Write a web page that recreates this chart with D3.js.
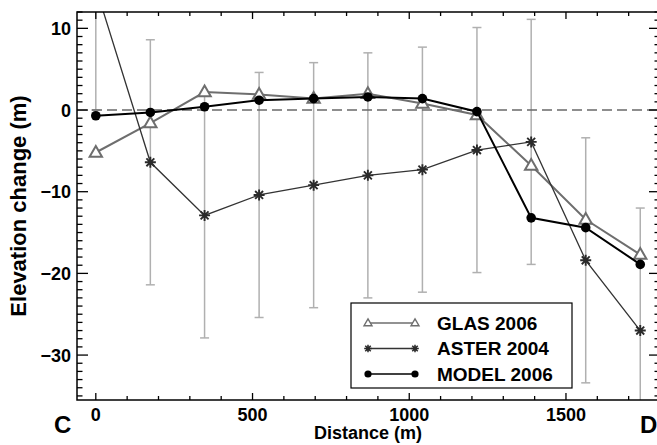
<!DOCTYPE html>
<html>
<head>
<meta charset="utf-8">
<script src="https://cdn.jsdelivr.net/npm/d3@7"></script>
<style>
  body { margin: 0; background: #fff; }
  svg { display: block; font-family: "Liberation Sans", Arial, Helvetica, sans-serif; font-weight: bold; }
</style>
</head>
<body>
<svg width="657" height="445"></svg>
<script>
// distance along profile C-D (m)
const distance = [0, 174, 347, 521, 695, 868, 1042, 1216, 1389, 1563, 1737];
// elevation change (m)
const glas2006 = [-5.2, -1.6, 2.2, 1.9, 1.4, 2.0, 0.8, -0.6, -6.8, -13.4, -17.7];
const aster2004 = [15.0, -6.4, -12.9, -10.4, -9.2, -8.0, -7.3, -4.9, -3.9, -18.4, -27.0];
const asterErr = [15, 15, 15, 15, 15, 15, 15, 15, 15, 15, 15];
const model2006 = [-0.7, -0.3, 0.4, 1.2, 1.4, 1.6, 1.4, -0.2, -13.2, -14.4, -18.9];

const xTicks = [0, 500, 1000, 1500];
const yTicks = [10, 0, -10, -20, -30];
const seriesNames = ['GLAS 2006', 'ASTER 2004', 'MODEL 2006'];

var svg = d3.select('svg');
var width = +svg.attr('width');
var height = +svg.attr('height');

const margin = {top: 12, right: -3, bottom: 45, left: 77};
const innerWidth = width - margin.left - margin.right;
const innerHeight = height - margin.top - margin.bottom;

const xScale = d3.scaleLinear().domain([-60, 1800]).range([0, innerWidth]);
const yScale = d3.scaleLinear().domain([-35.5, 12]).range([innerHeight, 0]);

const g = svg.append('g')
  .attr('transform', `translate(${margin.left}, ${margin.top})`);

g.append('clipPath').attr('id', 'clip')
  .append('rect').attr('width', innerWidth).attr('height', innerHeight);

const plot = g.append('g').attr('clip-path', 'url(#clip)');

// error bars (ASTER)
const bars = plot.selectAll('.err').data(distance).enter().append('g');
bars.append('line')
  .attr('x1', d => xScale(d)).attr('x2', d => xScale(d))
  .attr('y1', (d, i) => yScale(aster2004[i] + asterErr[i]))
  .attr('y2', (d, i) => yScale(aster2004[i] - asterErr[i]));
[1, -1].forEach(s => {
  bars.append('line')
    .attr('x1', d => xScale(d) - 4.5).attr('x2', d => xScale(d) + 4.5)
    .attr('y1', (d, i) => yScale(aster2004[i] + s * asterErr[i]))
    .attr('y2', (d, i) => yScale(aster2004[i] + s * asterErr[i]));
});
bars.selectAll('line').style('stroke', '#b0b0b0').style('stroke-width', 1.5);

// zero line
plot.append('line')
  .attr('x1', 0).attr('x2', innerWidth)
  .attr('y1', yScale(0)).attr('y2', yScale(0))
  .style('stroke', '#6a6a6a').style('stroke-width', 1.5)
  .style('stroke-dasharray', '10,5');

const line = vals => d3.line()
  .x((d, i) => xScale(distance[i]))
  .y(d => yScale(d))(vals);

const tri = (s) => `M0,${-s}L${s * 0.95},${s * 0.65}L${-s * 0.95},${s * 0.65}Z`;
const star = (s) => `M${-s},0H${s}M0,${-s}V${s}M${-s * 0.72},${-s * 0.72}L${s * 0.72},${s * 0.72}M${-s * 0.72},${s * 0.72}L${s * 0.72},${-s * 0.72}`;

// GLAS
plot.append('path').attr('d', line(glas2006))
  .style('fill', 'none').style('stroke', '#6e6e6e').style('stroke-width', 2);
plot.selectAll('.glas').data(glas2006).enter().append('path')
  .attr('transform', (d, i) => `translate(${xScale(distance[i])},${yScale(d)})`)
  .attr('d', tri(6.5))
  .style('fill', '#fff').style('stroke', '#6e6e6e').style('stroke-width', 2);

// ASTER
plot.append('path').attr('d', line(aster2004))
  .style('fill', 'none').style('stroke', '#333').style('stroke-width', 1.3);
plot.selectAll('.aster').data(aster2004).enter().append('path')
  .attr('transform', (d, i) => `translate(${xScale(distance[i])},${yScale(d)})`)
  .attr('d', star(5.5))
  .style('fill', 'none').style('stroke', '#2a2a2a').style('stroke-width', 1.9);

// MODEL
plot.append('path').attr('d', line(model2006))
  .style('fill', 'none').style('stroke', '#000').style('stroke-width', 2);
plot.selectAll('circle').data(model2006).enter().append('circle')
  .attr('cx', (d, i) => xScale(distance[i]))
  .attr('cy', d => yScale(d))
  .attr('r', 4.8)
  .style('fill', '#000');

// frame
g.append('rect').attr('width', innerWidth).attr('height', innerHeight)
  .style('fill', 'none').style('stroke', '#000').style('stroke-width', 1.5);

// minor + major ticks, all inward
const xMinor = d3.range(0, 1800, 100);
const yMinor = d3.range(-35, 13, 1);
const ticks = g.append('g').style('stroke', '#000').style('stroke-width', 1.3);
xMinor.forEach(v => {
  const len = v % 500 == 0 ? 7 : 4;
  ticks.append('line').attr('x1', xScale(v)).attr('x2', xScale(v))
    .attr('y1', innerHeight).attr('y2', innerHeight - len);
  ticks.append('line').attr('x1', xScale(v)).attr('x2', xScale(v))
    .attr('y1', 0).attr('y2', len);
});
yMinor.forEach(v => {
  const len = v % 10 == 0 ? 11 : 5.5;
  ticks.append('line').attr('y1', yScale(v)).attr('y2', yScale(v))
    .attr('x1', 0).attr('x2', len);
  ticks.append('line').attr('y1', yScale(v)).attr('y2', yScale(v))
    .attr('x1', innerWidth).attr('x2', innerWidth - len);
});

// tick labels
g.selectAll('.xl').data(xTicks).enter().append('text')
  .attr('x', d => xScale(d)).attr('y', innerHeight + 21)
  .attr('text-anchor', 'middle').style('font-size', '18px')
  .text(d => d);
g.selectAll('.yl').data(yTicks).enter().append('text')
  .attr('x', -6).attr('y', d => yScale(d)).attr('dy', '0.36em')
  .attr('text-anchor', 'end').style('font-size', '18px')
  .text(d => d < 0 ? '\u2212' + Math.abs(d) : d);

// axis titles
svg.append('text')
  .attr('x', 368).attr('y', 439)
  .attr('text-anchor', 'middle').style('font-size', '18px')
  .text('Distance (m)');
svg.append('text')
  .attr('transform', 'translate(26,206) rotate(-90)')
  .attr('text-anchor', 'middle').style('font-size', '22px')
  .text('Elevation change (m)');
svg.append('text').attr('x', 54).attr('y', 433).style('font-size', '24px').text('C');
svg.append('text').attr('x', 640).attr('y', 433).style('font-size', '24px').text('D');

// legend
const leg = svg.append('g').attr('transform', 'translate(351,303)');
leg.append('rect').attr('width', 221).attr('height', 85)
  .style('fill', '#fff').style('stroke', '#000').style('stroke-width', 1.2);
const rows = [
  {stroke: '#6e6e6e', w: 1.6},
  {stroke: '#333', w: 1.3},
  {stroke: '#000', w: 1.6}
];
rows.forEach((r, i) => {
  const y = 20 + i * 25.5;
  leg.append('line').attr('x1', 17).attr('x2', 64).attr('y1', y).attr('y2', y)
    .style('stroke', r.stroke).style('stroke-width', r.w);
  [17, 64].forEach(x => {
    if (i == 0) {
      leg.append('path').attr('transform', `translate(${x},${y})`).attr('d', tri(4.2))
        .style('fill', '#fff').style('stroke', '#6e6e6e').style('stroke-width', 1.4);
    } else if (i == 1) {
      leg.append('path').attr('transform', `translate(${x},${y})`).attr('d', star(3.8))
        .style('fill', 'none').style('stroke', '#2a2a2a').style('stroke-width', 1.5);
    } else {
      leg.append('circle').attr('cx', x).attr('cy', y).attr('r', 3.6).style('fill', '#000');
    }
  });
  leg.append('text').attr('x', 86).attr('y', y).attr('dy', '0.36em')
    .style('font-size', '19px').text(seriesNames[i]);
});
</script>
</body>
</html>
